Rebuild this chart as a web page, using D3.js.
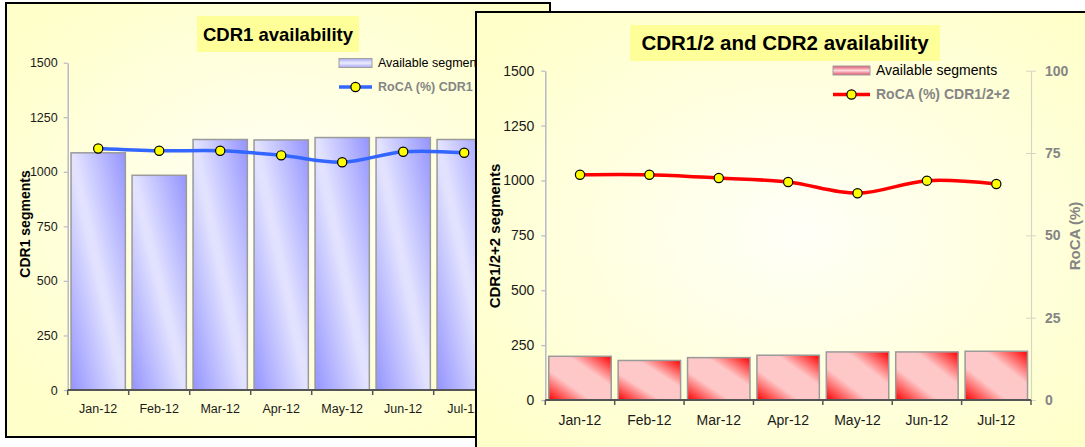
<!DOCTYPE html>
<html>
<head>
<meta charset="utf-8">
<script src="https://cdn.jsdelivr.net/npm/d3@7"></script>
<style>
  body { margin: 0; background: #fff; }
  svg { display: block; }
  text { font-family: "Liberation Sans", Arial, sans-serif; }
</style>
</head>
<body>
<script>
// Monthly categories
const months = ["Jan-12", "Feb-12", "Mar-12", "Apr-12", "May-12", "Jun-12", "Jul-12"];

// CDR1: available segments (bars) and RoCA % (line)
const cdr1Segments = [1087, 984, 1148, 1146, 1157, 1157, 1148];
const cdr1Roca = [73.8, 73.1, 73.1, 71.7, 69.6, 72.8, 72.5];

// CDR1/2 + CDR2: available segments (bars) and RoCA % (line)
const cdr2Segments = [199, 180, 193, 204, 219, 219, 222];
const cdr2Roca = [68.4, 68.4, 67.4, 66.2, 62.8, 66.6, 65.6];

// Axis ticks
const segmentTicks = [0, 250, 500, 750, 1000, 1250, 1500];
const rocaTicks = [0, 25, 50, 75, 100];

const svg = d3.select("body").append("svg")
  .attr("width", 1085).attr("height", 447);

const defs = svg.append("defs");

// soft yellow panel background, lighter in the middle
const bg = defs.append("radialGradient").attr("id", "panelBg")
  .attr("cx", "50%").attr("cy", "48%").attr("r", "62%");
bg.append("stop").attr("offset", "0").attr("stop-color", "#FFFFF8");
bg.append("stop").attr("offset", "1").attr("stop-color", "#FFFFCA");

// diagonal bar fills: dark corners, light band through the middle
function diagGradient(id, dark, light, spread) {
  const lg = defs.append("linearGradient").attr("id", id)
    .attr("x1", 0).attr("y1", 1).attr("x2", 1).attr("y2", 0);
  lg.append("stop").attr("offset", "0").attr("stop-color", dark);
  lg.append("stop").attr("offset", 0.5 - spread).attr("stop-color", light);
  lg.append("stop").attr("offset", 0.5 + spread).attr("stop-color", light);
  lg.append("stop").attr("offset", "1").attr("stop-color", dark);
}
diagGradient("barBlue", "#9494FF", "#E2E2FF", 0.02);
diagGradient("barRed", "#FF0000", "#FFC8C8", 0.16);

// legend swatch fills: light stripe along the middle
function stripeGradient(id, edge, mid) {
  const lg = defs.append("linearGradient").attr("id", id)
    .attr("x1", 0).attr("y1", 0).attr("x2", 0).attr("y2", 1);
  lg.append("stop").attr("offset", "0").attr("stop-color", edge);
  lg.append("stop").attr("offset", "0.5").attr("stop-color", mid);
  lg.append("stop").attr("offset", "1").attr("stop-color", edge);
}
stripeGradient("swatchBlue", "#A8A8F0", "#ECECFF");
stripeGradient("swatchRed", "#E05468", "#FFD8DE");

const fmt = d3.format("d");

function drawPanel(p) {
  const g = svg.append("g");

  // frame
  g.append("rect")
    .attr("x", p.box[0]).attr("y", p.box[1])
    .attr("width", p.box[2]).attr("height", p.box[3])
    .attr("fill", "url(#panelBg)")
    .attr("stroke", "#000").attr("stroke-width", 2);

  // title
  g.append("rect")
    .attr("x", p.titleBox[0]).attr("y", p.titleBox[1])
    .attr("width", p.titleBox[2]).attr("height", p.titleBox[3])
    .attr("fill", "#FFFF99");
  g.append("text")
    .attr("x", p.titleBox[0] + p.titleBox[2] / 2)
    .attr("y", p.titleBaseline)
    .attr("text-anchor", "middle")
    .attr("font-size", p.titleFont).attr("font-weight", "bold")
    .attr("fill", "#000")
    .text(p.title);

  const x = d3.scaleBand().domain(months)
    .range([p.left, p.right])
    .paddingInner(p.pad).paddingOuter(p.pad / 2);
  const y = d3.scaleLinear().domain([0, 1500]).range([p.bottom, p.top]);
  const y2 = d3.scaleLinear().domain([0, 100]).range([p.bottom, p.top]);
  const bw = x.bandwidth();

  // left value axis
  const ya = g.append("g")
    .attr("transform", `translate(${p.left},0)`)
    .call(d3.axisLeft(y).tickValues(segmentTicks).tickFormat(fmt)
      .tickSize(4).tickSizeOuter(0).tickPadding(p.tickPad));
  ya.select(".domain").attr("stroke", "#B8B8CC").attr("stroke-width", 1.5);
  ya.selectAll(".tick line").attr("stroke", "#B8B8CC").attr("stroke-width", 1.2);
  ya.selectAll(".tick text").attr("font-size", p.tickFont).attr("fill", "#1a1a1a");

  // right percentage axis
  if (p.rightAxis) {
    const ra = g.append("g")
      .attr("transform", `translate(${p.right},0)`)
      .call(d3.axisRight(y2).tickValues(rocaTicks).tickFormat(fmt)
        .tickSize(5).tickSizeOuter(0).tickPadding(9));
    ra.select(".domain").attr("stroke", "#D6D6C4").attr("stroke-width", 1.2);
    ra.selectAll(".tick line").attr("stroke", "#D6D6C4")
      .attr("x1", -5).attr("x2", 5);
    ra.selectAll(".tick text").attr("font-size", p.tickFont)
      .attr("font-weight", "bold").attr("fill", "#858585");
    g.append("text")
      .attr("transform", `translate(${p.rightTitleX},${p.axisTitleY}) rotate(-90)`)
      .attr("text-anchor", "middle")
      .attr("font-size", p.axisTitleFont).attr("font-weight", "bold")
      .attr("fill", "#858585")
      .text("RoCA (%)");
  }

  // bars
  g.append("g").selectAll("rect")
    .data(p.bars)
    .join("rect")
    .attr("x", (d, i) => x(months[i]))
    .attr("y", d => y(d))
    .attr("width", bw)
    .attr("height", d => p.bottom - y(d))
    .attr("fill", p.barFill)
    .attr("stroke", "#9A9A9A").attr("stroke-width", 1.5);

  // category axis
  g.append("line")
    .attr("x1", p.left).attr("x2", p.right)
    .attr("y1", p.bottom).attr("y2", p.bottom)
    .attr("stroke", "#555").attr("stroke-width", 2);
  g.append("g").selectAll("line")
    .data(d3.range(months.length + 1))
    .join("line")
    .attr("x1", i => p.left + i * x.step())
    .attr("x2", i => p.left + i * x.step())
    .attr("y1", p.bottom).attr("y2", p.bottom + 5)
    .attr("stroke", "#555").attr("stroke-width", 1.5);
  const xa = g.append("g")
    .attr("transform", `translate(0,${p.bottom})`)
    .call(d3.axisBottom(x).tickSize(0).tickPadding(p.xLabelPad));
  xa.select(".domain").remove();
  xa.selectAll(".tick text").attr("font-size", p.tickFont).attr("fill", "#1a1a1a");

  // RoCA line
  const line = d3.line()
    .x((d, i) => x(months[i]) + bw / 2)
    .y(d => y2(d))
    .curve(d3.curveCatmullRom.alpha(0.5));
  g.append("path")
    .datum(p.roca)
    .attr("d", line)
    .attr("fill", "none")
    .attr("stroke", p.lineColor).attr("stroke-width", 3.5)
    .attr("stroke-linejoin", "round");
  g.append("g").selectAll("circle")
    .data(p.roca)
    .join("circle")
    .attr("cx", (d, i) => x(months[i]) + bw / 2)
    .attr("cy", d => y2(d))
    .attr("r", 4.6)
    .attr("fill", "#FFFF00")
    .attr("stroke", "#000").attr("stroke-width", 1.2);

  // left axis title
  g.append("text")
    .attr("transform", `translate(${p.leftTitleX},${p.axisTitleY}) rotate(-90)`)
    .attr("text-anchor", "middle")
    .attr("font-size", p.axisTitleFont).attr("font-weight", "bold")
    .attr("fill", "#000")
    .text(p.leftTitle);

  // legend
  const L = p.legend;
  g.append("rect")
    .attr("x", L.x).attr("y", L.y1 - 4.5)
    .attr("width", L.w).attr("height", 9)
    .attr("fill", p.swatchFill)
    .attr("stroke", "#A0A0A0").attr("stroke-width", 1);
  g.append("text")
    .attr("x", L.x + L.w + 6).attr("y", L.y1)
    .attr("dy", "0.35em")
    .attr("font-size", L.font).attr("fill", "#000")
    .text("Available segments");
  g.append("line")
    .attr("x1", L.x).attr("x2", L.x + L.w)
    .attr("y1", L.y2).attr("y2", L.y2)
    .attr("stroke", p.lineColor).attr("stroke-width", 3.5);
  g.append("circle")
    .attr("cx", L.x + L.w / 2).attr("cy", L.y2).attr("r", 4.6)
    .attr("fill", "#FFFF00").attr("stroke", "#000").attr("stroke-width", 1.2);
  g.append("text")
    .attr("x", L.x + L.w + 6).attr("y", L.y2)
    .attr("dy", "0.35em")
    .attr("font-size", L.font).attr("font-weight", "bold").attr("fill", "#858585")
    .text(p.lineLabel);
}

// CDR1 panel (drawn first, partly covered)
drawPanel({
  box: [6, 3, 544, 434],
  title: "CDR1 availability",
  titleBox: [197, 16, 162, 36], titleBaseline: 41, titleFont: 18.5,
  left: 67.7, right: 494.7, top: 62.7, bottom: 390, pad: 0.11,
  tickFont: 12.5, tickPad: 6, xLabelPad: 14,
  bars: cdr1Segments, roca: cdr1Roca,
  barFill: "url(#barBlue)", swatchFill: "url(#swatchBlue)",
  lineColor: "#3366FF",
  leftTitle: "CDR1 segments", leftTitleX: 30, axisTitleY: 224, axisTitleFont: 14,
  rightAxis: false,
  lineLabel: "RoCA (%) CDR1",
  legend: { x: 339, w: 33, y1: 63, y2: 87, font: 12.5 }
});

// CDR1/2 and CDR2 panel
drawPanel({
  box: [476, 12, 640, 460],
  title: "CDR1/2 and CDR2 availability",
  titleBox: [630, 25, 310, 36], titleBaseline: 50, titleFont: 20.5,
  left: 545.3, right: 1031, top: 70.7, bottom: 400, pad: 0.1,
  tickFont: 14, tickPad: 7, xLabelPad: 15,
  bars: cdr2Segments, roca: cdr2Roca,
  barFill: "url(#barRed)", swatchFill: "url(#swatchRed)",
  lineColor: "#FF0000",
  leftTitle: "CDR1/2+2 segments", leftTitleX: 500, axisTitleY: 236, axisTitleFont: 15,
  rightAxis: true, rightTitleX: 1080,
  lineLabel: "RoCA (%) CDR1/2+2",
  legend: { x: 833, w: 37, y1: 70.5, y2: 94.5, font: 14 }
});
</script>
</body>
</html>
